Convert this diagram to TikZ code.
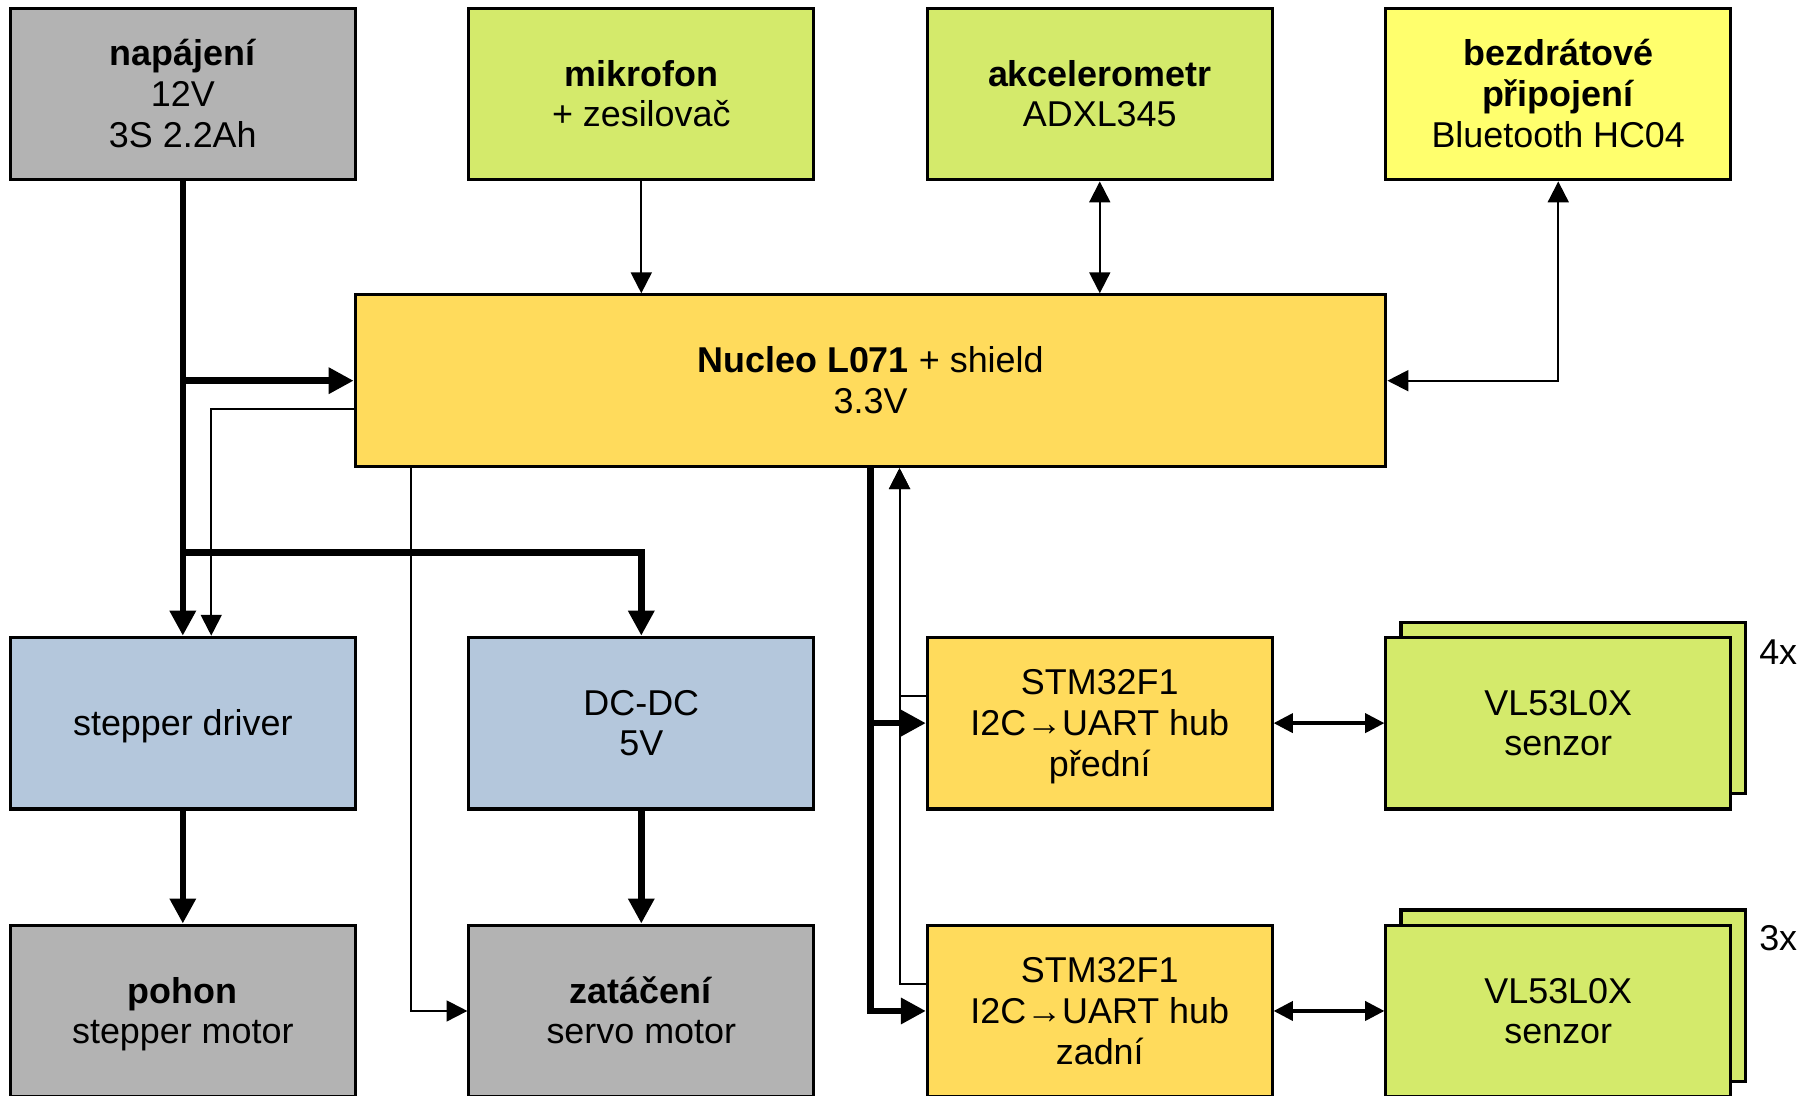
\documentclass[tikz,border=0pt]{standalone}
\usepackage{fontspec}
\setmainfont{Liberation Sans}
\usetikzlibrary{arrows.meta,shadows}
\definecolor{boxGray}{RGB}{179,179,179}
\definecolor{boxLime}{RGB}{212,234,107}
\definecolor{boxYel}{RGB}{255,255,109}
\definecolor{boxGold}{RGB}{255,219,92}
\definecolor{boxBlue}{RGB}{180,199,220}
\newcommand\lnstrut{\rule[-1.87pt]{0pt}{9.83pt}}
\newcommand\blktxt[1]{\lnstrut#1\lnstrut}

\begin{document}
\begin{tikzpicture}[x=0.1mm,y=-0.1mm,
  blk/.style={draw,line width=0.75pt,minimum width=29.7mm,minimum height=14.8mm,inner sep=0pt,align=center,font=\fontsize{8.8}{10}\selectfont},
  pwr/.style={line width=1.6pt,>={Triangle[length=2.15mm,width=2.15mm]}},
  sig/.style={line width=0.5pt,>={Triangle[length=1.8mm,width=1.8mm]}},
  bus/.style={line width=0.8pt,>={Triangle[length=1.65mm,width=1.65mm]}}]
\useasboundingbox (0,0) rectangle (1568,944);
% top row
\node[blk,fill=boxGray] (nap) at (157.5,81) {\blktxt{\textbf{napájení}\\12V\\3S 2.2Ah}};
\node[blk,fill=boxLime] (mic) at (552.5,81) {\blktxt{\textbf{mikrofon}\\+ zesilovač}};
\node[blk,fill=boxLime] (acc) at (947.5,81) {\blktxt{\textbf{akcelerometr}\\ADXL345}};
\node[blk,fill=boxYel] (bt) at (1342.5,81) {\blktxt{\textbf{bezdrátové}\\\textbf{připojení}\\Bluetooth HC04}};
% main board
\node[blk,fill=boxGold,minimum width=88.8mm] (nuc) at (750,328) {\blktxt{\textbf{Nucleo L071} + shield\\3.3V}};
% middle row
\node[blk,fill=boxBlue] (drv) at (157.5,623) {\blktxt{stepper driver}};
\node[blk,fill=boxBlue] (dcdc) at (552.5,623) {\blktxt{DC-DC\\5V}};
\node[blk,fill=boxGold] (hubf) at (947.5,623) {\blktxt{STM32F1\\I2C→UART hub\\přední}};
\node[blk,fill=boxLime,copy shadow={shadow xshift=1.3mm,shadow yshift=1.3mm}] (vlf) at (1342.5,623) {\blktxt{VL53L0X\\senzor}};
\node[font=\fontsize{8.8}{10}\selectfont] (cnt4) at (1532,562) {4x};
% bottom row
\node[blk,fill=boxGray] (pohon) at (157.5,871) {\blktxt{\textbf{pohon}\\stepper motor}};
\node[blk,fill=boxGray] (servo) at (552.5,871) {\blktxt{\textbf{zatáčení}\\servo motor}};
\node[blk,fill=boxGold] (hubr) at (947.5,871) {\blktxt{STM32F1\\I2C→UART hub\\zadní}};
\node[blk,fill=boxLime,copy shadow={shadow xshift=1.3mm,shadow yshift=1.3mm}] (vlr) at (1342.5,871) {\blktxt{VL53L0X\\senzor}};
\node[font=\fontsize{8.8}{10}\selectfont] (cnt3) at (1532,808) {3x};
% power
\coordinate (pwrsplit) at (157.5,476);
\draw[pwr,->] (nap.south) -- (drv.north);
\draw[pwr,->] (nap.south |- nuc.west) -- (nuc.west);
\draw[pwr,->] (pwrsplit) -| (dcdc.north);
\draw[pwr,->] (drv.south) -- (pohon.north);
\draw[pwr,->] (dcdc.south) -- (servo.north);
\draw[pwr,->] (nuc.south) |- (hubr.west);
\draw[pwr,->] (nuc.south |- hubf.west) -- (hubf.west);
% signals
\draw[sig,->] (mic.south) -- (mic.south |- nuc.north);
\draw[sig,<->] (acc.south) -- (acc.south |- nuc.north);
\draw[sig,<->] (nuc.east) -| (bt.south);
\draw[sig,->] ([yshift=-2.4mm]nuc.west) -| ([xshift=2.45mm]drv.north);
\draw[sig,->] ([xshift=4.9mm]nuc.south west) |- (servo.west);
\draw[sig,->] ([yshift=2.3mm]hubr.west) -| ([xshift=2.5mm]nuc.south);
\draw[sig,->] ([yshift=2.3mm]hubf.west) -| ([xshift=2.5mm]nuc.south);
\draw[bus,<->] (hubf.east) -- (vlf.west);
\draw[bus,<->] (hubr.east) -- (vlr.west);
\end{tikzpicture}
\end{document}
